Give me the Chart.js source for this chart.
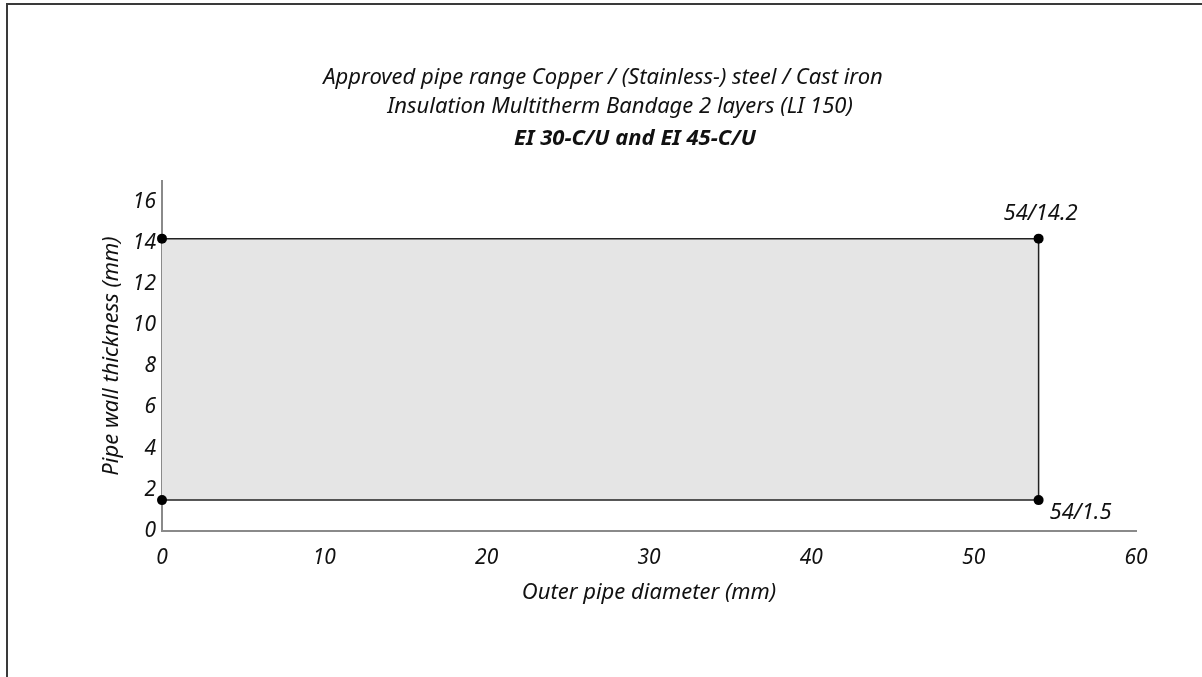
<!DOCTYPE html>
<html>
<head>
<meta charset="utf-8">
<script src="https://cdn.jsdelivr.net/npm/chart.js@4/dist/chart.umd.min.js"></script>
<style>
  html, body { margin: 0; padding: 0; background: #fff; overflow: hidden; }
  #wrap { position: relative; width: 1202px; height: 677px; }
  #frame { position: absolute; left: 6px; top: 3px; width: 1300px; height: 800px; border: 2px solid #3a3a3a; pointer-events: none; }
  canvas { position: absolute; left: 0; top: 0; }
</style>
</head>
<body>
<div id="wrap">
  <div id="frame"></div>
  <canvas id="myChart" width="1202" height="677"></canvas>
</div>
<script>
// approved range: outer diameter (mm) and wall thickness (mm)
const diameters = [0, 54];
const wallThickness = [1.5, 14.2];
const xTicks = [0, 10, 20, 30, 40, 50, 60];
const yTicks = [0, 2, 4, 6, 8, 10, 12, 14, 16];
const titleLines = [
  'Approved pipe range Copper / (Stainless-) steel / Cast iron',
  'Insulation Multitherm Bandage 2 layers (LI 150)',
  'EI 30-C/U and EI 45-C/U'
];
const xTitle = 'Outer pipe diameter (mm)';
const yTitle = 'Pipe wall thickness (mm)';

const FONT = '"Noto Sans"';
const axisColor = '#8a8a8a';
const textColor = '#111';

let xMin = diameters[0], xMax = diameters[1];
let yMin = wallThickness[0], yMax = wallThickness[1];

// outline of the range, corner by corner
let outline = [
  {x: xMin, y: yMin},
  {x: xMax, y: yMin},
  {x: xMax, y: yMax},
  {x: xMin, y: yMax}
];

// text above the chart
const headerPlugin = {
  id: 'header',
  afterDraw(chart) {
    const ctx = chart.ctx;
    const spots = [[603, 78, 'italic'], [620, 107, 'italic'], [635, 139, 'italic bold']];
    ctx.save();
    ctx.fillStyle = textColor;
    ctx.textAlign = 'center';
    ctx.textBaseline = 'middle';
    titleLines.forEach((t, i) => {
      ctx.font = spots[i][2] + ' 22px ' + FONT;
      ctx.fillText(t, spots[i][0], spots[i][1]);
    });
    ctx.restore();
  }
};

// "54/14.2" and "54/1.5" next to the right corners
const cornerLabels = {
  id: 'cornerLabels',
  afterDatasetsDraw(chart) {
    const ctx = chart.ctx;
    const xs = chart.scales.x, ys = chart.scales.y;
    ctx.save();
    ctx.fillStyle = textColor;
    ctx.font = 'italic 22px ' + FONT;
    ctx.textBaseline = 'middle';
    let px = xs.getPixelForValue(xMax);
    ctx.textAlign = 'center';
    ctx.fillText(xMax + '/' + yMax, px + 2, ys.getPixelForValue(yMax) - 25);
    ctx.textAlign = 'left';
    ctx.fillText(xMax + '/' + yMin, px + 11, ys.getPixelForValue(yMin) + 13);
    ctx.restore();
  }
};

const chart = document.getElementById('myChart').getContext('2d');
const config = {
  type: 'scatter',
  data: {
    datasets: [
      {
        // grey area between min and max thickness
        data: [{x: xMin, y: yMax}, {x: xMax, y: yMax}],
        showLine: true,
        fill: {value: yMin},
        backgroundColor: '#e5e5e5',
        borderWidth: 0,
        pointRadius: 0,
        order: 2
      },
      {
        data: outline,
        showLine: true,
        fill: false,
        borderColor: '#222',
        borderWidth: 1.5,
        pointRadius: 5,
        pointBackgroundColor: '#000',
        pointBorderColor: '#000',
        pointBorderWidth: 0,
        clip: false,
        order: 1
      }
    ]
  },
  options: {
    responsive: false,
    animation: false,
    layout: { padding: { left: 90, right: 66, top: 181, bottom: 69 } },
    plugins: {
      legend: { display: false },
      tooltip: { enabled: false }
    },
    scales: {
      x: {
        type: 'linear',
        min: 0,
        max: 60,
        afterBuildTicks: s => { s.ticks = xTicks.map(v => ({value: v})); },
        afterFit: s => { s.height = 77; },
        grid: { display: false, drawTicks: false },
        border: { display: true, color: axisColor, width: 2 },
        ticks: { color: textColor, padding: 14, maxRotation: 0, font: { family: FONT, size: 21, style: 'italic' } },
        title: { display: true, text: xTitle, color: textColor, padding: { top: 4, bottom: 2 }, font: { family: FONT, size: 22, style: 'italic' } }
      },
      y: {
        type: 'linear',
        min: 0,
        max: 17,
        afterBuildTicks: s => { s.ticks = yTicks.map(v => ({value: v})); },
        afterFit: s => { s.width = 72; },
        grid: { display: false, drawTicks: false },
        border: { display: true, color: axisColor, width: 2 },
        ticks: { color: textColor, padding: 6, font: { family: FONT, size: 21, style: 'italic' } },
        title: { display: true, text: yTitle, color: textColor, padding: { top: 9, bottom: 4 }, font: { family: FONT, size: 22, style: 'italic' } }
      }
    }
  },
  plugins: [headerPlugin, cornerLabels]
};

const myChart = new Chart(chart, config);
</script>
</body>
</html>
